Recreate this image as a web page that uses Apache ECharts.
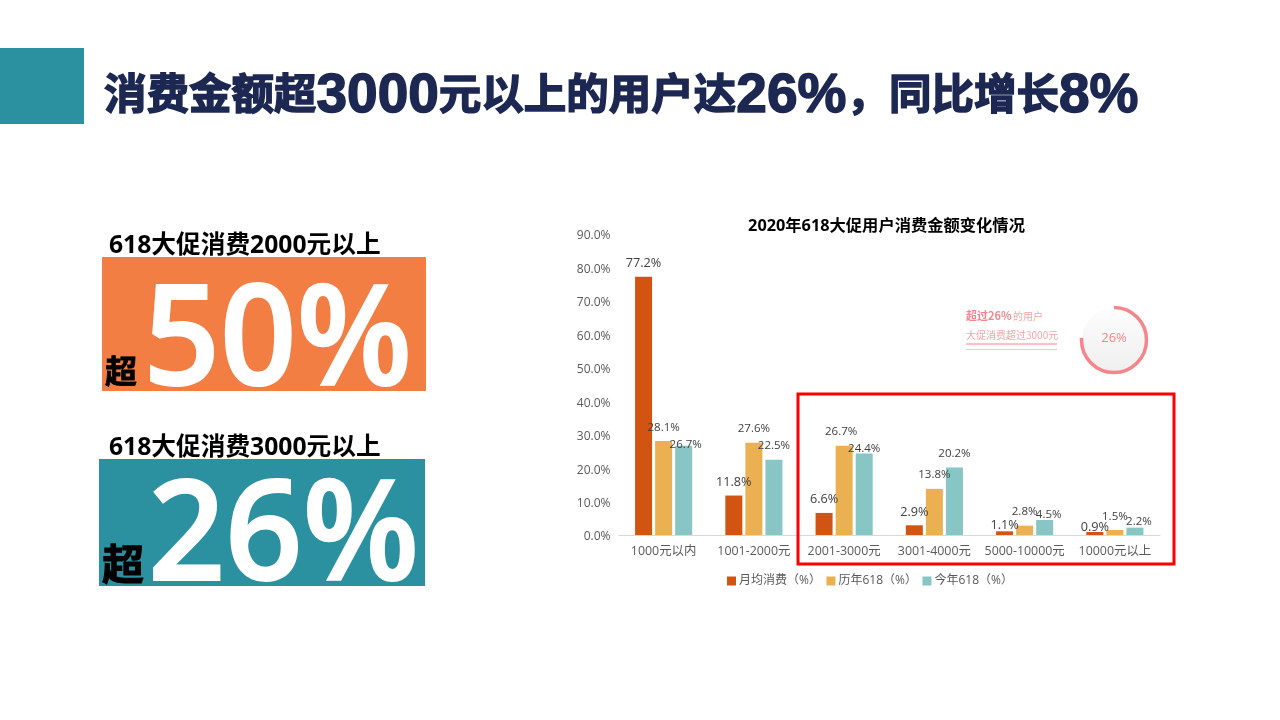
<!DOCTYPE html>
<html lang="zh">
<head>
<meta charset="UTF-8">
<title>618大促用户消费金额</title>
<script src="https://cdn.jsdelivr.net/npm/echarts@6/dist/echarts.min.js"></script>
<style>
html,body{margin:0;padding:0;background:#fff}
#main{width:1280px;height:720px}
</style>
</head>
<body>
<div id="main"></div>
<script>
var categories = ['1000元以内','1001-2000元','2001-3000元','3001-4000元','5000-10000元','10000元以上'];
var monthly = [77.2,11.8,6.6,2.9,1.1,0.9];
var past618 = [28.1,27.6,26.7,13.8,2.8,1.5];
var this618 = [26.7,22.5,24.4,20.2,4.5,2.2];
var seriesNames = ['月均消费（%）','历年618（%）','今年618（%）'];

// labels in the original sit at uneven spots around the bars
var monthlyNudgeY = [0,0,0,0,7,9];
var past618NudgeY = [0,0,0,0,0,0];
var this618NudgeY = [13,0,9,0,9,8];
var this618NudgeX = [2,0,0,0,4,4];
var past618NudgeX = [0,0,-3,0,0,0];
var noNudgeX = [0,0,0,0,0,0];

var fontStack = '"Open Sans","Noto Sans CJK SC",sans-serif';
var cjkStack = '"Noto Sans CJK SC",sans-serif';

function makeSeries(name,values,nudgeX,nudgeY,color,labelSize,dist){
    return {
        name:name,
        type:'bar',
        barWidth:17,
        barGap:'18%',
        itemStyle:{color:color},
        label:{
            show:true,
            position:'top',
            distance:dist,
            color:'#404040',
            fontFamily:fontStack,
            fontSize:labelSize,
            formatter:function(p){return p.value.toFixed(1)+'%'}
        },
        data:values.map(function(v,i){
            return {value:v,label:{offset:[nudgeX[i],nudgeY[i]]}}
        })
    }
}

function slideText(text,x,y,size,color,family,weight,stroke,scaleX){
    return {
        type:'text',
        z:5,
        x:x,
        y:y,
        scaleX:scaleX||1,
        style:{
            text:text,
            fontSize:size,fontFamily:family,fontWeight:weight,
            fill:color,
            stroke:stroke?color:null,
            lineWidth:stroke||0,
            textVerticalAlign:'middle'
        }
    }
}

var headline = slideText('{c|消费金额超}{d|3000}{c|元以上的用户达}{d|26%}{c|，同比增长}{d|8%}',104,93,42,'#1c2752',cjkStack,'bold');
headline.style.rich = {
    c:{fontSize:42.5,fontFamily:cjkStack,fontWeight:'bold',fill:'#1c2752',stroke:'#1c2752',lineWidth:1.5},
    d:{fontSize:55,fontFamily:'"Liberation Sans"',fontWeight:'bold',fill:'#1c2752',stroke:'#1c2752',lineWidth:1.5,padding:[7,0,0,0]}
};

var chart = echarts.init(document.getElementById('main'));
chart.setOption({
    animation:false,
    title:{
        text:'2020年618大促用户消费金额变化情况',
        left:881.5,
        top:213,
        textAlign:'center',
        textStyle:{color:'#000',fontSize:16.3,fontWeight:'bold',fontFamily:fontStack}
    },
    legend:{
        left:722,
        top:570,
        icon:'rect',
        itemWidth:9,
        itemHeight:9,
        itemGap:5.5,
        textStyle:{color:'#595959',fontSize:12,fontFamily:fontStack,padding:[0,0,0,-2]}
    },
    grid:{left:618.5,top:234,width:541.5,height:301},
    xAxis:{
        type:'category',
        data:categories,
        axisLine:{lineStyle:{color:'#d9d9d9'}},
        axisTick:{show:false},
        axisLabel:{interval:0,color:'#595959',fontSize:12.4,fontFamily:fontStack,margin:10}
    },
    yAxis:{
        type:'value',
        min:0,
        max:90,
        interval:10,
        axisLine:{show:false},
        axisTick:{show:false},
        splitLine:{show:false},
        axisLabel:{color:'#595959',fontSize:12,fontFamily:fontStack,margin:8,verticalAlign:'top',lineHeight:4,
            formatter:function(v){return v.toFixed(1)+'%'}}
    },
    series:[
        makeSeries(seriesNames[0],monthly,noNudgeX,monthlyNudgeY,'#d25412',12.7,7),
        makeSeries(seriesNames[1],past618,past618NudgeX,past618NudgeY,'#ebb051',11.5,8),
        makeSeries(seriesNames[2],this618,this618NudgeX,this618NudgeY,'#88c5c5',11.5,8)
    ],
    graphic:[
        {type:'rect',shape:{x:0,y:48,width:84,height:76},style:{fill:'#2b91a0'}},
        headline,

        slideText('618大促消费2000元以上',109,246,24.7,'#000',fontStack,'bold'),
        {type:'rect',shape:{x:102,y:257,width:324,height:134},style:{fill:'#f27e44'}},
        slideText('50%',143.5,345,140,'#fff','"Open Sans"',600,2,0.955),
        slideText('超',105,371,32,'#000',cjkStack,'bold',0.8),

        slideText('618大促消费3000元以上',109,448,24.7,'#000',fontStack,'bold'),
        {type:'rect',shape:{x:99,y:459,width:326,height:127},style:{fill:'#2b91a0'}},
        slideText('26%',148,540,140,'#fff','"Open Sans"',600,2,0.965),
        slideText('超',102,564,42,'#000',cjkStack,'bold',1),

        {type:'rect',shape:{x:798,y:394,width:376,height:170},style:{fill:'none',stroke:'#ff0000',lineWidth:3},z:6},

        // faded badge pasted on the slide
        slideText('超过26%',966,316,11,'#f4868b',cjkStack,'bold'),
        slideText('的用户',1013,316,10,'#f4a5a8',cjkStack,'normal'),
        slideText('大促消费超过3000元',966,335,10,'#f4a5a8',cjkStack,'normal'),
        {type:'line',shape:{x1:966,y1:344,x2:1057,y2:344},style:{stroke:'#f4868b',lineWidth:1}},
        {type:'line',shape:{x1:966,y1:349.5,x2:1057,y2:349.5},style:{stroke:'#dcd0d0',lineWidth:1}},
        {type:'circle',shape:{cx:1114,cy:340,r:32},style:{
            fill:new echarts.graphic.LinearGradient(0,0,0,1,[{offset:0,color:'#fdfdfd'},{offset:1,color:'#efefef'}])
        }},
        {type:'arc',shape:{cx:1114,cy:340,r:32.5,startAngle:-Math.PI/2,endAngle:Math.PI*1.02,clockwise:true},
            style:{fill:'none',stroke:'#f4868b',lineWidth:3.5}},
        {type:'text',z:5,style:{text:'26%',x:1114,y:338,fontSize:13,fontFamily:fontStack,fill:'#f4868b',
            textAlign:'center',textVerticalAlign:'middle'}}
    ]
});
</script>
</body>
</html>
